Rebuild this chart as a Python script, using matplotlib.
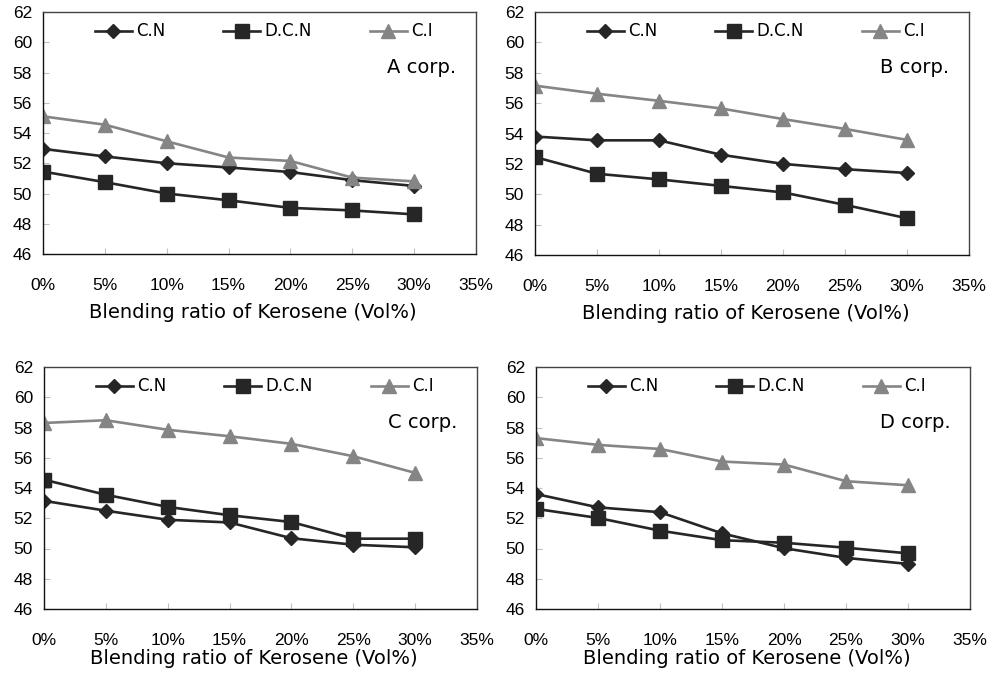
"""
Cetane number / derived cetane number / cetane index vs. kerosene blending ratio
for four diesel suppliers (A-D corp.)
"""
import matplotlib
matplotlib.use("Agg")
import matplotlib.pyplot as plt
from matplotlib.ticker import FuncFormatter

plt.rcParams["font.family"] = ["Liberation Sans", "DejaVu Sans"]

blend = [0, 0.05, 0.10, 0.15, 0.20, 0.25, 0.30]  # kerosene fraction (Vol)

# values
cn = {
    "A": [52.95, 52.45, 52.0, 51.72, 51.42, 50.88, 50.5],
    "B": [53.8, 53.55, 53.55, 52.6, 52.0, 51.65, 51.4],
    "C": [53.15, 52.5, 51.9, 51.72, 50.68, 50.25, 50.08],
    "D": [53.6, 52.72, 52.4, 51.0, 50.02, 49.38, 48.98],
}
dcn = {
    "A": [51.45, 50.75, 50.0, 49.55, 49.05, 48.88, 48.62],
    "B": [52.45, 51.35, 50.98, 50.55, 50.12, 49.3, 48.42],
    "C": [54.55, 53.55, 52.75, 52.2, 51.75, 50.65, 50.65],
    "D": [52.62, 52.02, 51.18, 50.55, 50.38, 50.05, 49.68],
}
ci = {
    "A": [55.1, 54.55, 53.45, 52.38, 52.15, 51.05, 50.8],
    "B": [57.15, 56.62, 56.15, 55.65, 54.95, 54.3, 53.58],
    "C": [58.3, 58.48, 57.85, 57.42, 56.92, 56.1, 55.0],
    "D": [57.3, 56.85, 56.58, 55.75, 55.55, 54.45, 54.18],
}
xticks = [0, 0.05, 0.10, 0.15, 0.20, 0.25, 0.30, 0.35]
yticks = list(range(46, 63, 2))

dark = "#262626"
grey = "#858585"
txt_font = ["DejaVu Sans"]

fig = plt.figure(figsize=(9.89, 6.75), dpi=100)

# panel boxes in pixels: left, top, right, bottom
boxes = {
    "A": (43, 12, 476, 254),
    "B": (535, 12, 969, 255),
    "C": (44, 367, 477, 609),
    "D": (536, 367, 970, 609),
}
label_y = {"A": 303, "B": 304, "C": 649, "D": 649}

W, H = 989, 675
for corp, (l, t, r, b) in boxes.items():
    ax = fig.add_axes([l / W, (H - b) / H, (r - l) / W, (b - t) / H])

    ax.plot(blend, cn[corp], color=dark, lw=1.9, marker="D", ms=7.5,
            mfc=dark, mec=dark, label="C.N")
    ax.plot(blend, dcn[corp], color=dark, lw=1.9, marker="s", ms=9.5,
            mfc=dark, mec=dark, label="D.C.N")
    ax.plot(blend, ci[corp], color=grey, lw=1.9, marker="^", ms=10.5,
            mfc=grey, mec=grey, label="C.I")

    ax.set_xlim(0, 0.35)
    ax.set_ylim(46, 62)
    ax.set_xticks(xticks)
    ax.set_yticks(yticks)
    ax.xaxis.set_major_formatter(FuncFormatter(lambda v, p: f"{v * 100:.0f}%"))
    ax.tick_params(direction="in", length=4, width=0.8, color="#c0c0c0",
                   labelsize=12.5)
    ax.tick_params(axis="x", pad=17)
    ax.tick_params(axis="y", pad=8)

    for side in ["left", "bottom"]:
        ax.spines[side].set_color("#111111")
        ax.spines[side].set_linewidth(1.0)
    for side in ["top", "right"]:
        ax.spines[side].set_color("#444444")
        ax.spines[side].set_linewidth(1.0)

    ax.set_xlabel("Blending ratio of Kerosene (Vol%)", fontsize=14,
                  family=txt_font)
    ax.xaxis.set_label_coords(0.485, -(label_y[corp] - b) / (b - t))

    ax.text(0.955, 0.772, f"{corp} corp.", transform=ax.transAxes,
            ha="right", va="center", fontsize=14, family=txt_font)

    ax.legend(loc="center left", bbox_to_anchor=(0.12, 0.92), ncol=3,
              frameon=False, prop={"family": txt_font, "size": 12},
              handlelength=2.2, handletextpad=0.25,
              columnspacing=3.5, borderaxespad=0, borderpad=0)

fig.savefig("out.png", dpi=100)
